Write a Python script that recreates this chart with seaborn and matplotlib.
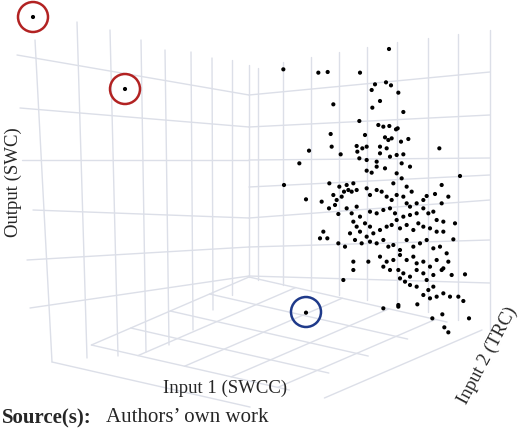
import matplotlib
matplotlib.use("Agg")
import matplotlib.pyplot as plt
import seaborn as sns
import numpy as np
import pandas as pd
from matplotlib.patches import Circle

sns.set_style("white")
plt.rcParams['font.family'] = ['Liberation Serif', 'DejaVu Serif']

# Projected point positions (zoomed crop coords of cluster: x*3, y*3 offset)
cluster_zx = [40,145,173,270,357,315,348,363,305,385,330,307,400,190,268,325,340,358,378,383,182,285,345,365,393,415,185,117,212,260,277,262,290,330,350,355,508,88,268,290,320,330,360,380,400,395,420,570,42,178,208,230,235,250,290,305,320,345,380,395,370,410,425,515,108,155,190,200,215,222,245,260,290,300,320,335,350,365,380,400,410,420,440,460,470,495,515,535,177,195,205,230,245,260,270,300,320,340,360,375,380,400,420,440,460,475,490,500,520,555,250,260,270,285,300,310,330,350,365,390,410,430,445,460,480,500,520,550,160,150,172,205,240,255,275,290,300,320,340,355,370,390,410,430,450,470,490,510,530,225,250,295,330,350,370,390,410,430,440,460,480,500,520,535,250,340,360,385,400,420,440,460,470,490,515,545,585,220,390,405,420,440,460,475,490,500,520,540,480,565,580,340,385,442,385,487,517,597,523,535,108]
cluster_zy = [88,98,96,98,27,133,127,136,150,158,183,203,216,193,243,255,260,258,268,265,282,285,292,295,305,297,320,332,343,318,325,335,320,320,325,300,325,370,355,360,365,340,350,345,343,370,380,408,435,430,440,435,450,430,392,398,380,385,400,415,430,440,455,435,478,485,465,480,470,455,455,450,445,465,450,455,470,480,465,470,490,500,490,480,468,462,490,470,505,495,522,505,520,500,530,515,520,510,505,520,540,530,525,520,505,520,515,540,545,550,545,560,575,550,560,580,570,560,555,565,555,570,550,560,565,575,575,598,575,595,595,610,580,600,610,590,605,610,600,620,615,630,600,620,610,600,625,620,640,620,665,665,650,665,660,645,660,650,670,665,680,660,685,665,690,680,690,690,700,710,690,700,720,705,690,705,703,720,715,725,735,740,765,750,740,770,760,770,775,770,783,805,795,793,800,835,823,835,862,877,818]
extra_x = [33, 125]
extra_y = [17, 89]

px = [270 + v / 3 for v in cluster_zx] + extra_x
py = [40 + v / 3 for v in cluster_zy] + extra_y
df = pd.DataFrame({"x": px, "y": py})

fig = plt.figure(figsize=(5.2, 4.33), dpi=100)
ax = fig.add_axes([0, 0, 1, 1])

gc = "#dcdfe8"
lw = 1.0
for xt, yt, xb, yb in [(35,40,52,362),(77,22,87,358),(110,30,118,356),(141,40,146,352),(165,50,169,345),(191,52,193,330),(212,58,213,310),(232,60,232,295),(249,65,249,277)]:
    ax.plot([xt, xb], [yt, yb], color=gc, lw=lw, zorder=0)
for xl, yl, yr in [(17,55,95),(20,108,127),(22,160,160),(33,210,218),(27,260,247),(30,308,276)]:
    ax.plot([xl, 249], [yl, yr], color=gc, lw=lw, zorder=0)
for yl, yr in [(95,72),(127,115),(160,158),(187,175),(218,200),(247,240),(276,283)]:
    ax.plot([249, 490], [yl, yr], color=gc, lw=lw, zorder=0)
for xv, yt, yb in [(258,68,280),(283,62,285),(311,57,290),(339,52,295),(367,47,300),(397,42,305),(428,38,312),(458,34,320),(490,30,330)]:
    ax.plot([xv, xv], [yt, yb], color=gc, lw=lw, zorder=0)
B = np.array([249, 277]); L = np.array([52, 362]); R = np.array([482, 330])
for t in np.linspace(0, 1, 6):
    p0 = B + t * (L - B); p1 = p0 + (R - B) * 0.85
    ax.plot([p0[0], p1[0]], [p0[1], p1[1]], color=gc, lw=lw, zorder=0)
for t in np.linspace(0, 1, 6):
    p0 = B + t * (R - B); p1 = p0 + (L - B) * 0.8
    ax.plot([p0[0], p1[0]], [p0[1], p1[1]], color=gc, lw=lw, zorder=0)

sns.scatterplot(data=df, x="x", y="y", ax=ax, color="black", s=9, edgecolor="none", zorder=3, legend=False)
ax.set_xlim(0, 520); ax.set_ylim(433, 0); ax.axis("off")

for (cx, cy, c) in [(33, 17, "#b22222"), (125, 89, "#b22222"), (306, 312, "#1f3a8a")]:
    ax.add_patch(Circle((cx, cy), 15, fill=False, ec=c, lw=1.8, zorder=4))

ax.text(13, 182, "Output (SWC)", rotation=90, ha="center", va="center", fontsize=13.5)
ax.text(225, 388, "Input 1 (SWCC)", ha="center", va="center", fontsize=13.5)
ax.text(488, 355, "Input 2 (TRC)", rotation=62, ha="center", va="center", fontsize=13.5)
ax.text(2, 418, "Source(s):", ha="left", va="center", fontsize=15, fontweight="bold")
ax.text(106, 418, "Authors\u2019 own work", ha="left", va="center", fontsize=15)

fig.savefig("out.png", dpi=100)
